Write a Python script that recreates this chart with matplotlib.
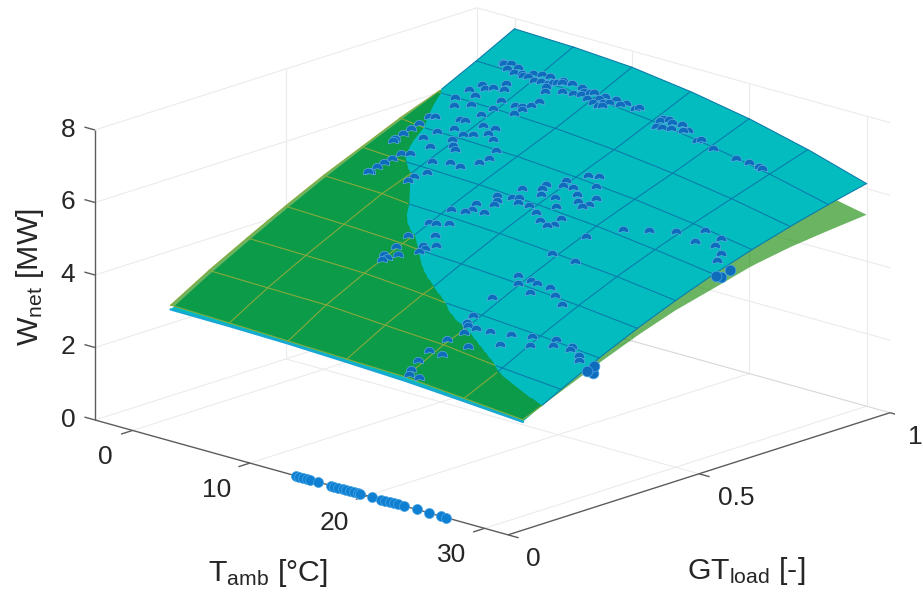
import numpy as np
import matplotlib
matplotlib.use("Agg")
import matplotlib.pyplot as plt
from matplotlib.path import Path
from mpl_toolkits.mplot3d import proj3d
from mpl_toolkits.mplot3d.art3d import Poly3DCollection

plt.rcParams["font.family"] = ["Liberation Sans", "DejaVu Sans"]
plt.rcParams["mathtext.default"] = "regular"

T_NODES = np.array([0, 5, 10, 15, 20, 25, 30], dtype=float)
G_NODES = np.array([0.1, 0.2, 0.3, 0.4, 0.5, 0.6, 0.7, 0.8, 0.9, 1.0])

# rows = GT load, columns = ambient temperature
W_CYAN = np.array([
    [3.00, 2.99, 2.96, 2.90, 2.83, 2.72, 2.60],
    [3.62, 3.61, 3.57, 3.51, 3.42, 3.30, 3.16],
    [4.19, 4.17, 4.14, 4.07, 3.97, 3.85, 3.69],
    [4.74, 4.72, 4.68, 4.60, 4.49, 4.35, 4.17],
    [5.26, 5.24, 5.19, 5.10, 4.97, 4.81, 4.60],
    [5.74, 5.72, 5.66, 5.56, 5.42, 5.22, 4.99],
    [6.19, 6.16, 6.10, 5.98, 5.82, 5.60, 5.33],
    [6.64, 6.61, 6.54, 6.40, 6.20, 5.95, 5.63],
    [7.16, 7.12, 7.03, 6.86, 6.61, 6.29, 5.90],
    [7.71, 7.66, 7.55, 7.33, 7.03, 6.63, 6.14],
])
W_GREEN = np.array([
    [3.12, 3.08, 3.03, 2.98, 2.94, 2.80, 2.66],
    [3.74, 3.71, 3.69, 3.58, 3.49, 3.29, 3.10],
    [4.30, 4.27, 4.23, 4.10, 3.92, 3.72, 3.55],
    [4.84, 4.79, 4.71, 4.52, 4.30, 4.10, 3.97],
    [5.35, 5.30, 5.12, 4.90, 4.65, 4.43, 4.33],
    [5.80, 5.70, 5.50, 5.25, 4.97, 4.72, 4.60],
    [6.26, 6.06, 5.86, 5.58, 5.25, 4.98, 4.88],
    [6.65, 6.40, 6.19, 5.88, 5.50, 5.20, 5.06],
    [7.03, 6.75, 6.50, 6.15, 5.74, 5.42, 5.18],
    [7.35, 7.05, 6.78, 6.40, 5.95, 5.62, 5.28],
])

T_RUG = [13.9, 14.2, 14.5, 14.9, 15.1, 15.8, 16.9, 17.2, 17.5, 17.9, 18.2, 18.5, 18.9,
         19.2, 19.4, 20.4, 21.2, 21.5, 21.9, 22.3, 22.6, 23.1, 24.2, 25.3, 26.3, 26.7]

# measured points (ambient temperature, GT load x 1000, net power x 100)
T_PTS = np.array([1.9,2.0,2.5,2.6,3.3,3.2,3.9,4.1,4.5,4.6,5.2,5.2,5.7,5.9,6.2,6.4,6.7,6.5,6.7,6.9,7.0,7.7,7.7,8.5,8.6,9.1,9.0,9.5,9.7,9.8,10.4,10.4,10.6,10.9,11.1,11.0,11.3,11.5,12.1,12.3,13.2,13.4,2.3,1.9,2.8,3.2,3.7,4.0,2.7,1.6,2.2,3.2,4.7,5.9,6.4,6.7,6.9,7.1,6.5,4.8,4.6,3.7,4.1,5.6,6.5,4.1,3.3,5.1,5.7,6.5,7.3,4.8,2.9,5.4,5.8,4.1,8.4,8.6,8.3,6.6,7.5,5.4,6.0,1.9,1.6,1.6,1.5,1.5,1.4,1.4,2.9,3.4,2.8,2.7,2.6,2.6,2.5,5.6,5.5,15.7,16.4,14.8,14.0,14.1,15.1,15.8,17.0,12.9,14.5,16.5,12.0,15.5,13.1,13.4,12.4,17.9,17.2,12.5,11.4,13.8,14.7,17.8,18.0,16.3,11.6,11.3,10.4,12.6,15.6,17.5,16.5,17.6,17.3,10.0,10.6,11.3,9.8,11.4,21.8,23.3,20.3,15.5,15.5,15.9,16.3,15.7,16.1,16.7,17.0,17.5,17.7,18.9,19.1,20.4,22.3,23.2,24.0,24.3,24.8,26.3,27.7,26.6,27.9,28.9,29.2,9.9,9.9,10.1,10.3,10.7,11.4,11.6,11.8,12.2,19.7,21.6,19.3,20.0,20.5,21.0,21.3,22.1,23.0,24.1,19.4,19.6,19.7,20.0,20.7,20.3,21.7,23.2,24.7,26.3,25.2,26.5,27.7,27.8,23.3,28.8,29.1,19.9,21.6,19.6,20.7,19.7,19.9,20.1,21.0])
G_PTS = np.array([911,911,914,900,896,910,900,897,896,908,892,912,895,912,896,887,875,902,906,914,909,888,915,893,913,895,905,906,911,890,902,887,910,884,888,894,901,912,905,913,910,914,845,823,837,845,865,850,814,794,773,788,819,819,822,815,832,846,800,795,772,744,744,746,748,716,697,708,715,731,719,688,671,672,666,653,693,670,652,629,628,617,586,734,727,701,682,663,644,640,614,621,592,576,560,543,540,566,552,710,718,681,652,639,664,668,692,624,623,656,585,630,592,599,573,664,638,561,549,584,587,630,642,607,533,522,514,534,577,584,561,564,554,468,470,481,421,442,614,636,563,912,905,916,912,888,892,896,916,904,911,896,901,893,896,901,902,901,660,691,690,656,669,653,634,385,355,343,351,367,409,394,403,419,494,495,416,395,413,413,387,415,399,385,345,289,270,264,264,244,268,278,288,301,267,286,299,292,245,285,276,212,215,174,174,142,117,105,106]) / 1000
W_PTS = np.array([721,720,722,714,711,719,713,711,711,717,707,718,708,717,708,703,696,710,712,716,713,701,715,702,712,702,707,707,709,699,702,696,706,692,693,697,699,704,698,702,697,698,686,675,681,685,695,687,670,660,651,657,671,669,670,666,674,681,659,659,648,637,636,636,636,624,616,619,622,628,622,611,604,603,600,596,609,599,591,583,581,579,564,633,630,620,612,604,596,594,580,582,571,564,558,551,550,555,549,600,601,590,580,574,583,582,588,570,567,575,555,567,556,558,549,574,566,543,539,551,551,561,564,555,531,527,525,530,544,542,534,532,529,503,503,507,480,487,540,543,524,689,686,689,685,677,677,676,683,675,677,665,666,656,645,641,636,634,546,550,542,535,533,523,515,464,450,443,447,453,470,462,467,474,495,489,458,447,454,452,439,450,440,430,422,392,381,377,375,367,375,377,379,382,366,372,376,372,359,365,359,354,349,335,332,317,303,297,295]) / 100

# the few points that stick out past the edge of the surface
T_EDGE = [30.0, 30.0, 30.0, 30.0, 30.0, 30.0]
G_EDGE = [0.286, 0.268, 0.283, 0.605, 0.618, 0.642]
W_EDGE = [3.52, 3.44, 3.34, 4.93, 4.86, 4.97]


def surf(table, t, g):
    t, g = np.broadcast_arrays(np.asarray(t, float), np.asarray(g, float))
    i = np.clip(np.searchsorted(T_NODES, t, side="right") - 1, 0, len(T_NODES) - 2)
    j = np.clip(np.searchsorted(G_NODES, g, side="right") - 1, 0, len(G_NODES) - 2)
    u = (t - T_NODES[i]) / (T_NODES[i + 1] - T_NODES[i])
    v = (g - G_NODES[j]) / (G_NODES[j + 1] - G_NODES[j])
    return ((1 - u) * (1 - v) * table[j, i] + u * (1 - v) * table[j, i + 1]
            + (1 - u) * v * table[j + 1, i] + u * v * table[j + 1, i + 1])


W, H = 923, 597
XLIM, YLIM, ZLIM = (-3.2, 32.0), (0.0, 1.0), (0.0, 8.0)
fig = plt.figure(figsize=(W / 100, H / 100), dpi=100)
ax = fig.add_axes([0.1, 0, 0.6, 0.9], projection="3d", proj_type="ortho", computed_zorder=False)
ax.set_xlim(*XLIM, view_margin=0)
ax.set_ylim(*YLIM, view_margin=0)
ax.set_zlim(*ZLIM, view_margin=0)
ax.set_box_aspect((564.7, 560, 303.8))
ax.view_init(elev=17.35, azim=-47)
ax.set_axis_off()


def to_px(t, g, z):
    x2, y2, _ = proj3d.proj_transform(t, g, z, ax.get_proj())
    return ax.transData.transform((x2, y2))


def place(left, bottom, size):
    ax.set_position([left / W, bottom / H, size / W, size / H])
    ax.apply_aspect()


# scale and shift the 3D box until its left corner and right corner land where they should
place(100, 0, 600)
a = to_px(XLIM[0], 0, 0)
e = to_px(XLIM[1], 1, 0)
size = 600 * 795 / (e[0] - a[0])
place(100, 0, size)
a = to_px(XLIM[0], 0, 0)
place(100 + 95 - a[0], H - 420 - a[1], size)

GRID = "#ebebeb"
AXIS = "#5c5c5c"
T_TICKS = [0, 10, 20, 30]
G_TICKS = [0, 0.5, 1]
Z_TICKS = [0, 2, 4, 6, 8]


def seg(t, g, z, color=GRID, lw=0.8, zorder=1):
    ax.plot(t, g, z, color=color, lw=lw, zorder=zorder, solid_capstyle="butt")


for t in T_TICKS:
    seg([t, t], [0, 1], [0, 0])
    seg([t, t], [1, 1], [0, 8])
for g in G_TICKS[1:]:
    seg(XLIM, [g, g], [0, 0], color="#d8d8d8" if g == 1 else GRID)
    seg([XLIM[0]] * 2, [g, g], [0, 8])
for z in Z_TICKS[1:]:
    seg([XLIM[0]] * 2, [0, 1], [z, z])
    seg(XLIM, [1, 1], [z, z])
seg([XLIM[0]] * 2, [0, 1], [0, 0])

seg(XLIM, [0, 0], [0, 0], color=AXIS, lw=1.0, zorder=2)
seg([XLIM[1]] * 2, [0, 1], [0, 0], color=AXIS, lw=1.0, zorder=2)
seg([XLIM[0]] * 2, [0, 0], [0, 8], color=AXIS, lw=1.0, zorder=2)
for t in T_TICKS:
    seg([t, t], [0, -0.03], [0, 0], color=AXIS, lw=1.0, zorder=2)
for g in G_TICKS:
    seg([XLIM[1], XLIM[1] + 0.9], [g, g], [0, 0], color=AXIS, lw=1.0, zorder=2)
for z in Z_TICKS:
    seg([XLIM[0], XLIM[0] - 0.9], [0, 0], [z, z], color=AXIS, lw=1.0, zorder=2)


def tick_text(s, t, g, z, dx, dy):
    x2, y2, _ = proj3d.proj_transform(t, g, z, ax.get_proj())
    ax.annotate(s, xy=(x2, y2), xycoords="data", xytext=(dx, dy), textcoords="offset pixels",
                ha="center", va="center", fontsize=19, color="#262626", annotation_clip=False)


for t in T_TICKS:
    tick_text(str(t), t, 0, 0, -27 if t == 0 else -33, -27)
for g, s in zip(G_TICKS, ["0", "0.5", "1"]):
    tick_text(s, XLIM[1], g, 0, 37 if s == "0.5" else 25, -24)
for z in Z_TICKS:
    tick_text(str(z), XLIM[0], 0, z, -27, 0)

fig.text(30 / W, 1 - 277 / H, r"W$_{net}$ [MW]", rotation=90, ha="center", va="center", fontsize=21.8, color="#262626")
fig.text(268 / W, 1 - 573 / H, r"T$_{amb}$ [°C]", ha="center", va="center", fontsize=21.8, color="#262626")
fig.text(746 / W, 1 - 571 / H, r"GT$_{load}$ [-]", ha="center", va="center", fontsize=21.8, color="#262626")

# rug on the temperature axis
ax.scatter(T_RUG, np.zeros(len(T_RUG)), np.zeros(len(T_RUG)), s=52, c="#0f7fd2", edgecolors="#49a8e6",
           linewidths=0.5, depthshade=False, zorder=3)

# where the two fitted surfaces cross
t_fine = np.linspace(0, 30, 121)
g_fine = np.linspace(0.1, 1.0, 451)
g_cross = []
for t in t_fine:
    diff = surf(W_GREEN, t, g_fine) - surf(W_CYAN, t, g_fine)
    below = np.nonzero(diff <= 0)[0]
    g_cross.append(g_fine[below[0]] if len(below) else 1.0)
g_cross = np.array(g_cross)


def add_poly(t, g, table, color, zorder):
    verts = np.column_stack([t, g, surf(table, t, g)])
    ax.add_collection3d(Poly3DCollection([verts], facecolors=[color], edgecolors="none", linewidths=0, zorder=zorder))


GREEN_RGBA = (16 / 255, 135 / 255, 0, 0.62)
CYAN_FILL = "#03bcc0"
n = 40
t_edges = np.r_[np.zeros(n), t_fine, np.full(n, 30.0), t_fine[::-1]]

# green under the cyan surface, cyan, then green over the cyan surface
g_low = np.r_[np.linspace(g_cross[0], 1.0, n), np.ones(len(t_fine)),
              np.linspace(1.0, g_cross[-1], n), g_cross[::-1]]
add_poly(t_edges, g_low, W_GREEN, GREEN_RGBA, 4)

g_all = np.r_[np.linspace(0.1, 1, n), np.ones(len(t_fine)), np.linspace(1, 0.1, n), np.full(len(t_fine), 0.1)]
add_poly(t_edges, g_all, W_CYAN, CYAN_FILL, 5)
ax.plot(t_fine, np.full(len(t_fine), 0.1), surf(W_CYAN, t_fine, 0.1), color="#1aa6d2", lw=1.6, zorder=5.5)

g_top = np.r_[np.linspace(0.1, g_cross[0], n), g_cross, np.linspace(g_cross[-1], 0.1, n), np.full(len(t_fine), 0.1)]
add_poly(t_edges, g_top, W_GREEN, GREEN_RGBA, 6)


def mesh(table, other, color):
    for t in T_NODES:
        g = np.linspace(0.1, 1, 181)
        w, o = surf(table, t, g), surf(other, t, g)
        w = np.where(w >= o, w, np.nan)
        ax.plot(np.full(g.shape, t), g, w, color=color, lw=0.8, zorder=7)
    for g in G_NODES:
        t = np.linspace(0, 30, 181)
        w, o = surf(table, t, g), surf(other, t, g)
        w = np.where(w >= o, w, np.nan)
        ax.plot(t, np.full(t.shape, g), w, color=color, lw=0.8, zorder=7)


mesh(W_CYAN, W_GREEN, "#0b7caa")
mesh(W_GREEN, W_CYAN, "#86aa3c")

# lower half of each point is buried in the surface
DOME = Path.wedge(-15, 195)
ax.scatter(T_PTS, G_PTS, W_PTS, s=58, marker=DOME, c="#0f6cbd", edgecolors="#6ab4e4",
           linewidths=0.4, depthshade=False, zorder=8)
ax.scatter(T_EDGE, G_EDGE, W_EDGE, s=60, c="#0f6cbd", edgecolors="#49a8e6",
           linewidths=0.5, depthshade=False, zorder=9)

fig.savefig("out.png", dpi=100)
